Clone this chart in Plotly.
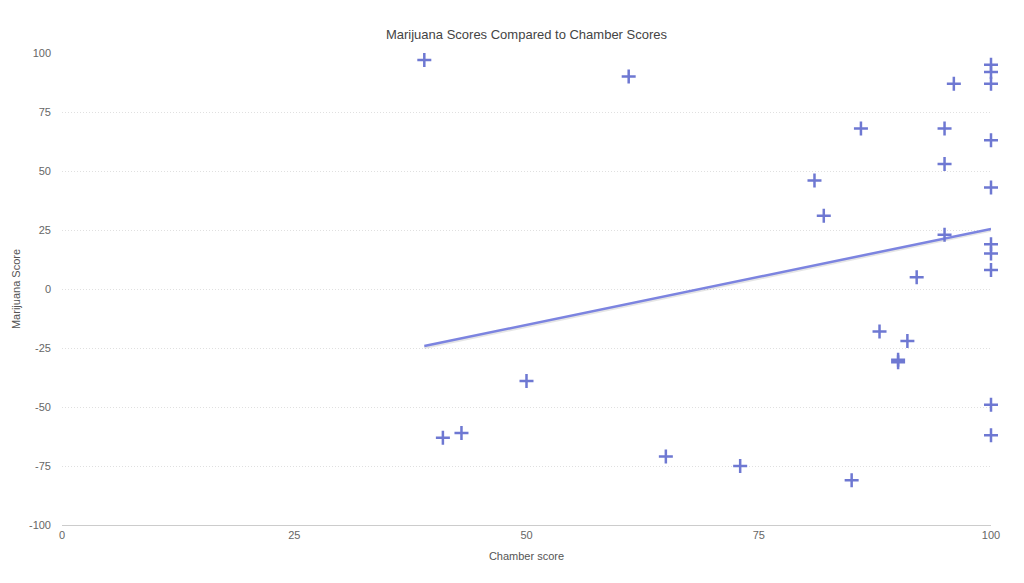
import numpy as np
import plotly.graph_objects as go

chamber = [39, 61, 100, 100, 96, 100, 86, 95, 100, 95, 81, 100, 82, 95, 100, 100,
           92, 100, 88, 91, 90, 90, 50, 100, 43, 41, 100, 65, 73, 85]
marijuana = [97, 90, 95, 92, 87, 87, 68, 68, 63, 53, 46, 43, 31, 23, 19, 15,
             5, 8, -18, -22, -30, -31, -39, -49, -61, -63, -62, -71, -75, -81]

x_ticks = [0, 25, 50, 75, 100]
y_ticks = [-100, -75, -50, -25, 0, 25, 50, 75, 100]

slope, intercept = np.polyfit(chamber, marijuana, 1)
tx = [min(chamber), max(chamber)]
ty = [slope * v + intercept for v in tx]

fig = go.Figure()
fig.add_trace(go.Scatter(x=tx, y=[v - 0.6 for v in ty], mode="lines",
                         line=dict(color="rgba(0,0,0,0.10)", width=3),
                         hoverinfo="skip", showlegend=False))
fig.add_trace(go.Scatter(x=tx, y=ty, mode="lines",
                         line=dict(color="#7c84e0", width=2.5),
                         showlegend=False))
fig.add_trace(go.Scatter(x=chamber, y=marijuana, mode="markers", cliponaxis=False,
                         marker=dict(symbol="cross-thin", size=10,
                                     line=dict(color="#6e78d2", width=2.5)),
                         showlegend=False))

font = "Helvetica Neue, Liberation Sans, Arial, sans-serif"
fig.update_layout(
    width=1024, height=583,
    margin=dict(l=62, r=33, t=53, b=58),
    paper_bgcolor="white", plot_bgcolor="white",
    font=dict(family=font, size=11, color="#666"),
    title=dict(text="Marijuana Scores Compared to Chamber Scores",
               x=(62 + 991) / 2 / 1024, xanchor="center", y=1 - 34 / 583, yanchor="middle",
               font=dict(size=13, color="#444")),
    xaxis=dict(range=[0, 100], tickvals=x_ticks, showgrid=False, zeroline=False,
               showline=True, linecolor="#ccc", linewidth=1, ticks="",
               title=dict(text="Chamber score", standoff=12, font=dict(size=11, color="#555"))),
    yaxis=dict(range=[-100, 100], tickvals=y_ticks, ticktext=[str(v) for v in y_ticks],
               showgrid=True, gridcolor="#e0e0e0", ticklabelstandoff=10,
               griddash="1px,2px", zeroline=False, showline=False, ticks="",
               title=dict(text="Marijuana Score", standoff=6, font=dict(size=11, color="#555"))),
)
fig.write_html("out.html")
